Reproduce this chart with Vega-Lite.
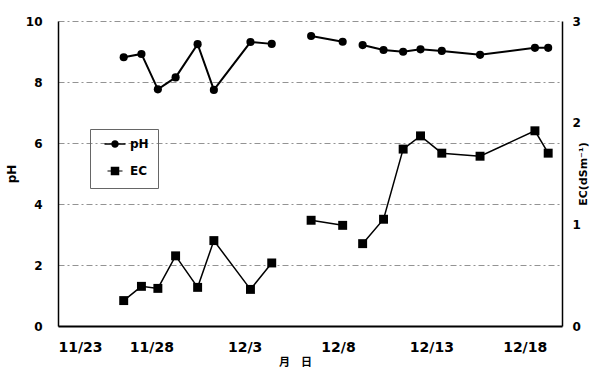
{
  "$schema": "https://vega.github.io/schema/vega-lite/v6.json",
  "width": 504,
  "height": 305,
  "autosize": {"type": "none"},
  "padding": {"left": 58, "top": 21, "right": 41, "bottom": 48},
  "background": "white",
  "config": {
    "view": {"stroke": null},
    "font": "DejaVu Sans",
    "axis": {
      "labelFont": "DejaVu Sans",
      "labelFontWeight": "bold",
      "labelColor": "black",
      "titleColor": "black",
      "titleFont": "DejaVu Sans",
      "titleFontWeight": "bold",
      "domainColor": "black",
      "ticks": false
    }
  },
  "data": {
    "values": [
      {"day": 3.52, "seg": 1, "pH": 8.81, "EC": 0.25},
      {"day": 4.47, "seg": 1, "pH": 8.92, "EC": 0.39},
      {"day": 5.35, "seg": 1, "pH": 7.76, "EC": 0.37},
      {"day": 6.30, "seg": 1, "pH": 8.15, "EC": 0.69},
      {"day": 7.48, "seg": 1, "pH": 9.24, "EC": 0.38},
      {"day": 8.35, "seg": 1, "pH": 7.74, "EC": 0.84},
      {"day": 10.31, "seg": 1, "pH": 9.31, "EC": 0.36},
      {"day": 11.45, "seg": 1, "pH": 9.25, "EC": 0.62},
      {"day": 13.56, "seg": 2, "pH": 9.51, "EC": 1.04},
      {"day": 15.25, "seg": 2, "pH": 9.32, "EC": 0.99},
      {"day": 16.32, "seg": 3, "pH": 9.21, "EC": 0.81},
      {"day": 17.44, "seg": 3, "pH": 9.05, "EC": 1.05},
      {"day": 18.49, "seg": 3, "pH": 8.99, "EC": 1.74},
      {"day": 19.42, "seg": 3, "pH": 9.07, "EC": 1.87},
      {"day": 20.56, "seg": 3, "pH": 9.02, "EC": 1.70},
      {"day": 22.61, "seg": 3, "pH": 8.89, "EC": 1.67},
      {"day": 25.55, "seg": 3, "pH": 9.12, "EC": 1.92},
      {"day": 26.26, "seg": 3, "pH": 9.12, "EC": 1.70}
    ]
  },
  "encoding": {
    "x": {
      "field": "day",
      "type": "quantitative",
      "scale": {"domain": [0, 27], "nice": false, "zero": false},
      "axis": {
        "values": [0, 5, 10, 15, 20, 25],
        "labelExpr": "['11/23','11/28','12/3','12/8','12/13','12/18'][round(datum.value/5)]",
        "labelFontSize": 14,
        "labelPadding": 14,
        "domainWidth": 2,
        "grid": false,
        "title": "月　日",
        "titleFont": "Noto Sans CJK JP",
        "titleFontSize": 11,
        "titlePadding": 2,
        "titleX": 237
      }
    }
  },
  "layer": [
    {
      "encoding": {
        "y": {
          "field": "pH",
          "type": "quantitative",
          "scale": {"domain": [0, 10], "nice": false},
          "axis": {
            "orient": "left",
            "values": [0, 2, 4, 6, 8, 10],
            "labelFontSize": 12,
            "labelPadding": 16,
            "domainWidth": 1.5,
            "grid": true,
            "gridColor": "#777777",
            "gridDash": [6, 3, 2, 3],
            "gridWidth": 0.8,
            "title": "pH",
            "titleFontSize": 12,
            "titlePadding": 7
          }
        }
      },
      "layer": [
        {
          "mark": {"type": "line", "color": "black", "strokeWidth": 2},
          "encoding": {"detail": {"field": "seg", "type": "nominal"}}
        },
        {
          "mark": {"type": "point", "filled": true, "color": "black", "opacity": 1, "size": 66, "shape": "circle"}
        },
        {
          "transform": [{"filter": "false"}],
          "mark": {"type": "point", "filled": true, "color": "black", "opacity": 1},
          "encoding": {
            "shape": {
              "field": "series",
              "type": "nominal",
              "scale": {
                "domain": ["pH", "EC"],
                "range": [
                  "M-2.1,-0.16H2.1V0.16H-2.1ZM0.75,0A0.75,0.75,0,1,1,-0.75,0A0.75,0.75,0,1,1,0.75,0Z",
                  "M-1.5,-0.1H1.5V0.1H-1.5ZM-0.85,-0.85H0.85V0.85H-0.85Z"
                ]
              },
              "legend": {
                "title": null,
                "orient": "none",
                "legendX": 32,
                "legendY": 108,
                "strokeColor": "#666666",
                "padding": 9,
                "symbolSize": 100,
                "symbolFillColor": "black",
                "symbolOpacity": 1,
                "symbolOffset": 10,
                "labelOffset": 9,
                "labelFontSize": 12,
                "labelFontWeight": "bold",
                "labelColor": "black",
                "rowPadding": 12
              }
            }
          }
        }
      ]
    },
    {
      "encoding": {
        "y": {
          "field": "EC",
          "type": "quantitative",
          "scale": {"domain": [0, 3], "nice": false},
          "axis": {
            "orient": "right",
            "values": [0, 1, 2, 3],
            "labelFontSize": 12,
            "labelPadding": 10,
            "domainWidth": 1.5,
            "grid": false,
            "title": "EC(dSm⁻¹)",
            "titleAngle": 270,
            "titleFontSize": 11,
            "titlePadding": 8
          }
        }
      },
      "layer": [
        {
          "mark": {"type": "line", "color": "black", "strokeWidth": 1.5},
          "encoding": {"detail": {"field": "seg", "type": "nominal"}}
        },
        {
          "mark": {"type": "point", "filled": true, "color": "black", "opacity": 1, "size": 80, "shape": "square"}
        }
      ]
    }
  ],
  "resolve": {"scale": {"y": "independent"}}
}
